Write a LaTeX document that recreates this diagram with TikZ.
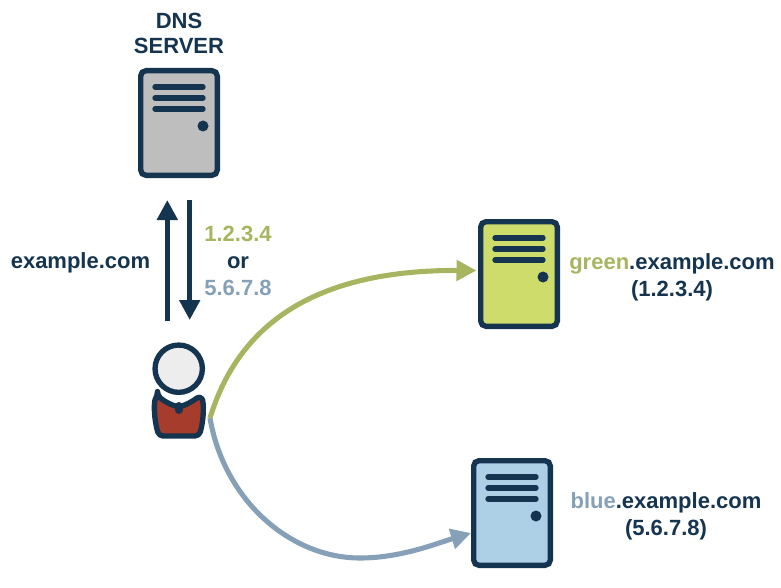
\documentclass[tikz,border=0pt]{standalone}
\usepackage{fontspec}
\setmainfont{Liberation Sans}
\usetikzlibrary{arrows.meta}
\definecolor{navy}{HTML}{15344F}
\definecolor{linegreen}{HTML}{A8B560}
\definecolor{lineblue}{HTML}{86A1B7}
\definecolor{fillgrey}{HTML}{BEBEBE}
\definecolor{fillgreen}{HTML}{CEDC6C}
\definecolor{fillblue}{HTML}{ADD0E6}
\definecolor{fillhead}{HTML}{EDEDED}
\definecolor{fillbody}{HTML}{A63C2B}
\tikzset{
    server/.style={draw=navy, line width=4pt, rounded corners=4pt, inner sep=0pt,
        minimum width=57.5pt, minimum height=78.5pt},
    slot/.style={draw=navy, line width=4pt, line cap=round},
    label/.style={font=\fontsize{16.5}{19}\selectfont\bfseries, text=navy, inner sep=0pt, align=center},
    flow/.style={line width=3.8pt, -{Triangle[length=15pt,width=15pt]}},
}
\newcommand{\serverparts}[1]{
    \begin{scope}[shift={(#1)}]
        \draw[slot] (-24,-36) -- (24,-36);
        \draw[slot] (-24,-25) -- (24,-25);
        \draw[slot] (-24,-14) -- (24,-14);
        \fill[navy] (24,3) circle (5.5);
    \end{scope}
}
\begin{document}
\begin{tikzpicture}[x=0.75pt,y=-0.75pt]
    \useasboundingbox (0,0) rectangle (781,588);

    % DNS server
    \node[server, fill=fillgrey] (dns) at (179,123) {};
    \serverparts{dns.center}
    \node[label] (dnslabel) at (179,33.5) {DNS\\[-0.5pt]SERVER};

    % green server
    \node[server, fill=fillgreen] (green) at (519,274) {};
    \serverparts{green.center}
    \node[label] (greenlabel) at (672,277) {\textcolor{linegreen}{green}.example.com\\[1.5pt](1.2.3.4)};

    % blue server
    \node[server, fill=fillblue] (blue) at (512,513) {};
    \serverparts{blue.center}
    \node[label] (bluelabel) at (666,516) {\textcolor{lineblue}{blue}.example.com\\[1.5pt](5.6.7.8)};

    % user
    \draw[navy, line width=4pt, fill=fillbody, line join=round, rounded corners=3pt]
        (157.5,395.5) .. controls (165,402) and (172,405) .. (178.7,407)
        .. controls (185,405) and (192,402) .. (200,395.5)
        .. controls (204,402) and (204,420) .. (199,436)
        -- (159,436)
        .. controls (154,420) and (153.5,402) .. (157.5,395.5) -- cycle;
    \draw[navy, line width=6pt, line cap=round] (178.7,406) -- (178.7,410);
    \node[circle, draw=navy, line width=4pt, fill=fillhead, inner sep=0pt, minimum size=35.5pt] (user) at (178.7,368.7) {};

    % query and answer
    \coordinate (upstart) at (167.3,321);
    \coordinate (uptip) at (167.3,200);
    \coordinate (downstart) at (189.7,200);
    \coordinate (downtip) at (189.7,320);
    \draw[flow, navy] (upstart) -- (uptip);
    \draw[flow, navy] (downstart) -- (downtip);
    \node[label] (query) at (80.5,262.5) {example.com};
    \node[label] (answer) at (238,261) {\textcolor{linegreen}{1.2.3.4}\\[1.5pt]or\\[1.5pt]\textcolor{lineblue}{5.6.7.8}};

    % requests
    \coordinate (userout) at (210,418);
    \coordinate (greenin) at (476.5,270.5);
    \coordinate (bluein) at (471,533);
    \draw[flow, lineblue] (userout) .. controls (224,500) and (290,558) .. (360,558) .. controls (400,558) and (435,544) .. (bluein);
    \draw[flow, linegreen] (userout) .. controls (240,320) and (320,270) .. (greenin);
\end{tikzpicture}
\end{document}
